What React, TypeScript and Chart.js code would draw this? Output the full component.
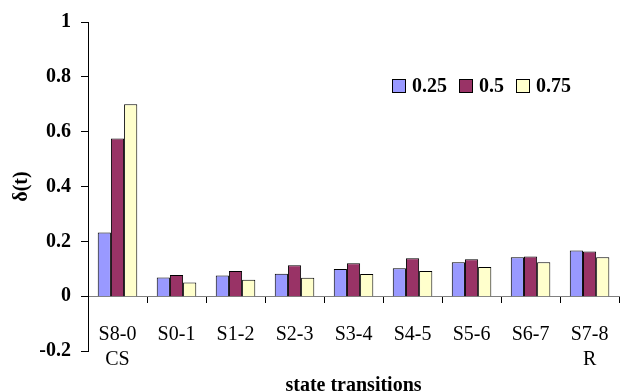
import React, { useEffect, useRef } from "react";
import { Chart, registerables } from "chart.js";

Chart.register(...registerables);

// State transitions along the x axis (second line under the first and last)
const categories: (string | string[])[] = [
  ["S8-0", "CS"],
  "S0-1",
  "S1-2",
  "S2-3",
  "S3-4",
  "S4-5",
  "S5-6",
  "S6-7",
  ["S7-8", "R"],
];

const seriesNames = ["0.25", "0.5", "0.75"];

const values025 = [0.232, 0.068, 0.075, 0.082, 0.099, 0.102, 0.124, 0.142, 0.167];
const values05 = [0.575, 0.077, 0.092, 0.113, 0.12, 0.138, 0.135, 0.145, 0.163];
const values075 = [0.7, 0.05, 0.06, 0.067, 0.081, 0.092, 0.106, 0.124, 0.142];

const yMin = -0.2;
const yMax = 1;
const yStep = 0.2;

const colors = ["#9999FF", "#993366", "#FFFFCC"];

const FONT = "'Liberation Serif', 'Times New Roman', serif";

// Legend drawn inside the plot area, one row of swatch + label
const insideLegend = {
  id: "insideLegend",
  afterDraw(chart: any) {
    const ctx = chart.ctx as CanvasRenderingContext2D;
    ctx.save();
    ctx.font = `bold 20px ${FONT}`;
    ctx.textBaseline = "middle";
    ctx.textAlign = "left";
    let x = 392;
    const cy = 86;
    chart.data.datasets.forEach((ds: any) => {
      ctx.fillStyle = ds.backgroundColor;
      ctx.fillRect(x + 0.5, cy - 6.5, 13, 13);
      ctx.strokeStyle = "#000";
      ctx.lineWidth = 1;
      ctx.strokeRect(x + 0.5, cy - 6.5, 13, 13);
      x += 20;
      ctx.fillStyle = "#000";
      ctx.fillText(ds.label, x, cy + 1);
      x += ctx.measureText(ds.label).width + 12;
    });
    ctx.restore();
  },
};

export default function App() {
  const canvasRef = useRef<HTMLCanvasElement | null>(null);

  useEffect(() => {
    if (!canvasRef.current) return;
    Chart.defaults.color = "#000";
    Chart.defaults.font.family = FONT;

    const chart = new Chart(canvasRef.current, {
      type: "bar",
      data: {
        labels: categories,
        datasets: [values025, values05, values075].map((vals, i) => ({
          label: seriesNames[i],
          data: vals,
          backgroundColor: colors[i],
          borderColor: "#000",
          borderWidth: 1,
          categoryPercentage: 0.67,
          barPercentage: 1,
        })),
      },
      options: {
        animation: false,
        responsive: false,
        maintainAspectRatio: false,
        layout: { padding: { top: 15, right: 0, left: 0, bottom: 0 } },
        plugins: {
          legend: { display: false },
          tooltip: { enabled: false },
          title: {
            display: true,
            position: "bottom",
            fullSize: false,
            text: "state transitions",
            color: "#000",
            font: { family: FONT, size: 20, weight: "bold", lineHeight: 1 },
            padding: { top: 25, bottom: -5 },
          },
        },
        scales: {
          x: {
            position: { y: 0 } as any,
            offset: true,
            grid: {
              offset: true,
              drawOnChartArea: false,
              drawTicks: true,
              tickLength: 6,
              color: "#000",
            },
            border: { display: true, color: "#808080", width: 1 },
            ticks: {
              font: { family: FONT, size: 20, lineHeight: 1.25 },
              padding: 20,
              maxRotation: 0,
              autoSkip: false,
            },
          },
          y: {
            min: yMin,
            max: yMax,
            afterFit(scale: any) {
              scale.width = 88;
            },
            grid: {
              drawOnChartArea: false,
              drawTicks: true,
              tickLength: 7,
              color: "#000",
            },
            border: { display: true, color: "#000", width: 1 },
            ticks: {
              stepSize: yStep,
              padding: 10,
              font: { family: FONT, size: 20, weight: "bold" },
              callback: (v: any) => String(Math.round(Number(v) * 10) / 10),
            },
            title: {
              display: true,
              text: "δ(t)",
              font: { family: FONT, size: 20, weight: "bold", lineHeight: 1.2 },
              padding: { top: 10, bottom: 0 },
            },
          },
        },
      },
      plugins: [insideLegend],
    });

    return () => chart.destroy();
  }, []);

  return (
    <div
      style={{
        position: "fixed",
        left: 0,
        top: 0,
        width: 629,
        height: 391,
        background: "#fff",
        overflow: "hidden",
      }}
    >
      <canvas ref={canvasRef} width={629} height={391} style={{ display: "block" }} />
    </div>
  );
}
